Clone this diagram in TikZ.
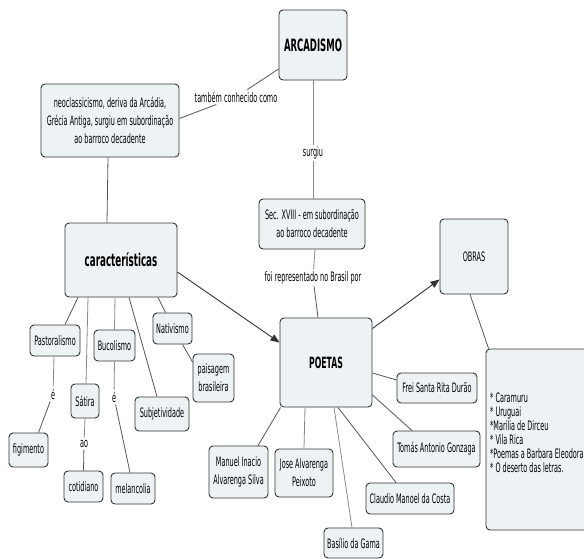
\documentclass[tikz,border=0pt]{standalone}
\usepackage{fontspec}
\setmainfont{DejaVu Sans}[FakeStretch=0.5]
\usetikzlibrary{arrows.meta}
\definecolor{boxfill}{HTML}{EDF3F5}
\definecolor{boxline}{HTML}{333333}
\definecolor{conn}{HTML}{555555}
\definecolor{connlight}{HTML}{8A8A8A}
\tikzset{
  cbox/.style={draw=boxline, fill=boxfill, rounded corners=4pt, line width=0.9pt, inner sep=0pt, align=center, font=\fontsize{13}{18}\selectfont},
  clab/.style={inner sep=2pt, font=\fontsize{13}{14}\selectfont, align=center},
  cline/.style={draw=conn, line width=0.8pt},
  clight/.style={draw=connlight, line width=0.8pt},
  carrow/.style={draw=boxline, line width=0.9pt, -{Triangle[length=9pt,width=7pt]}},
}
\begin{document}
\begin{tikzpicture}[x=1pt,y=-1pt]
\fill[white] (0,0) rectangle (584,558);
\useasboundingbox (0,0) rectangle (584,558);

% main nodes
\node[cbox, minimum width=68pt, minimum height=70pt, font=\fontsize{17}{20}\selectfont\bfseries] (arc) at (313,45) {ARCADISMO};
\node[cbox, minimum width=138pt, minimum height=73pt] (neo) at (110,120.5) {neoclassicismo, deriva da Arcádia,\\Grécia Antiga, surgiu em subordinação\\ao barroco decadente};
\node[cbox, minimum width=106pt, minimum height=50pt] (sec) at (312,224) {Sec. XVIII - em subordinação\\ao barroco decadente};
\node[cbox, minimum width=68pt, minimum height=75pt] (obras) at (474,256.5) {OBRAS};
\node[cbox, minimum width=112pt, minimum height=74pt, font=\fontsize{17.5}{20}\selectfont\bfseries] (car) at (121,260) {características};
\node[cbox, minimum width=92pt, minimum height=89pt, font=\fontsize{15.5}{18}\selectfont\bfseries] (poetas) at (326,362.5) {POETAS};

% caracteristicas children
\node[cbox, minimum width=50pt, minimum height=31pt] (past) at (55,340.5) {Pastoralismo};
\node[cbox, minimum width=41pt, minimum height=31pt] (buc) at (114.5,345.5) {Bucolismo};
\node[cbox, minimum width=39pt, minimum height=31pt] (nat) at (172.5,328.5) {Nativismo};
\node[cbox, minimum width=41pt, minimum height=48pt] (pais) at (213.5,378) {paisagem\\brasileira};
\node[cbox, minimum width=28pt, minimum height=34pt] (sat) at (85,401) {Sátira};
\node[cbox, minimum width=54pt, minimum height=34pt] (subj) at (162,414) {Subjetividade};
\node[cbox, minimum width=39pt, minimum height=34pt] (fig) at (28.5,450) {figimento};
\node[cbox, minimum width=39pt, minimum height=31pt] (cot) at (83.5,486.5) {cotidiano};
\node[cbox, minimum width=44pt, minimum height=31pt] (mel) at (133,488.5) {melancolia};

% poetas children
\node[cbox, minimum width=59pt, minimum height=52pt] (man) at (238.5,472) {Manuel Inacio\\Alvarenga Silva};
\node[cbox, minimum width=58pt, minimum height=48pt] (jose) at (304,473) {Jose Alvarenga\\Peixoto};
\node[cbox, minimum width=59pt, minimum height=30pt] (bas) at (353.5,543) {Basílio da Gama};
\node[cbox, minimum width=88pt, minimum height=31pt] (cla) at (410,498.5) {Claudio Manoel da Costa};
\node[cbox, minimum width=87pt, minimum height=36pt] (tom) at (436.5,449) {Tomás Antonio Gonzaga};
\node[cbox, minimum width=80pt, minimum height=30pt] (frei) at (437,388) {Frei Santa Rita Durão};

% obras list
\node[cbox, minimum width=124pt, minimum height=181pt] (list) at (548,439.5) {};
\node[anchor=west, inner sep=0pt, align=left, font=\fontsize{13}{14}\selectfont] (listtext) at (490,433)
  {* Caramuru\\* Uruguai\\*Marilia de Dirceu\\* Vila Rica\\*Poemas a Barbara Eleodora\\* O deserto das letras.};

% linking phrases
\node[clab] (lab1) at (236,97) {também conhecido como};
\node[clab] (lab2) at (313,153) {surgiu};
\node[clab] (lab3) at (313,278) {foi representado no Brasil por};
\node[clab] (lab4) at (53,394) {é};
\node[clab] (lab5) at (114,397) {é};
\node[clab] (lab6) at (84,444) {ao};

% connectors
\draw[cline] ([yshift=-24pt]arc.west) -- (lab1);
\draw[cline] (lab1) -- ([yshift=2pt]neo.east);
\draw[clight] (arc.south) -- (lab2);
\draw[clight] (lab2) -- ([xshift=1pt]sec.north);
\draw[cline] ([xshift=-2pt]neo.south) -- ([xshift=-14pt]car.north);
\draw[clight] ([xshift=3pt]sec.south) -- (lab3);
\draw[cline] (lab3) -- ([xshift=-8pt]poetas.north);
\draw[carrow] ([yshift=-12pt]car.east) -- ([yshift=20pt]poetas.west);
\draw[carrow] ([yshift=34pt]poetas.east) -- ([yshift=-23pt]obras.west);
\draw[cline] ([xshift=-4pt]obras.south) -- ([xshift=3pt]list.north west);

\draw[cline] ([xshift=-43pt]car.south) -- ([xshift=10pt]past.north);
\draw[clight] ([xshift=-33pt]car.south) -- ([xshift=1pt]sat.north);
\draw[clight] ([xshift=-6pt]car.south) -- (buc.north);
\draw[cline] ([xshift=8pt]car.south) -- ([xshift=-5pt]subj.north);
\draw[cline] ([xshift=37pt]car.south) -- ([xshift=-7pt]nat.north);
\draw[cline] ([xshift=10pt]nat.south) -- ([yshift=16pt]pais.west);

\draw[clight] ([xshift=-1pt]past.south) -- (lab4);
\draw[cline] (lab4) -- ([xshift=10pt]fig.north);
\draw[clight] (sat.south) -- (lab6);
\draw[cline] (lab6) -- (cot.north);
\draw[clight] (buc.south) -- (lab5);
\draw[cline] (lab5) -- ([xshift=-3pt]mel.north);

\draw[cline] ([xshift=1pt]poetas.south west) -- ([xshift=19.5pt]man.north);
\draw[clight] ([xshift=-21pt]poetas.south) -- (jose.north);
\draw[clight] ([xshift=8pt]poetas.south) -- ([xshift=-1.5pt]bas.north);
\draw[cline] ([xshift=12pt]poetas.south) -- ([xshift=-14pt]cla.north);
\draw[cline] ([yshift=-32.5pt]poetas.east) -- ([xshift=-24.5pt]tom.north);
\draw[cline] ([yshift=-10.5pt]poetas.east) -- ([yshift=8pt]frei.west);
\end{tikzpicture}
\end{document}
